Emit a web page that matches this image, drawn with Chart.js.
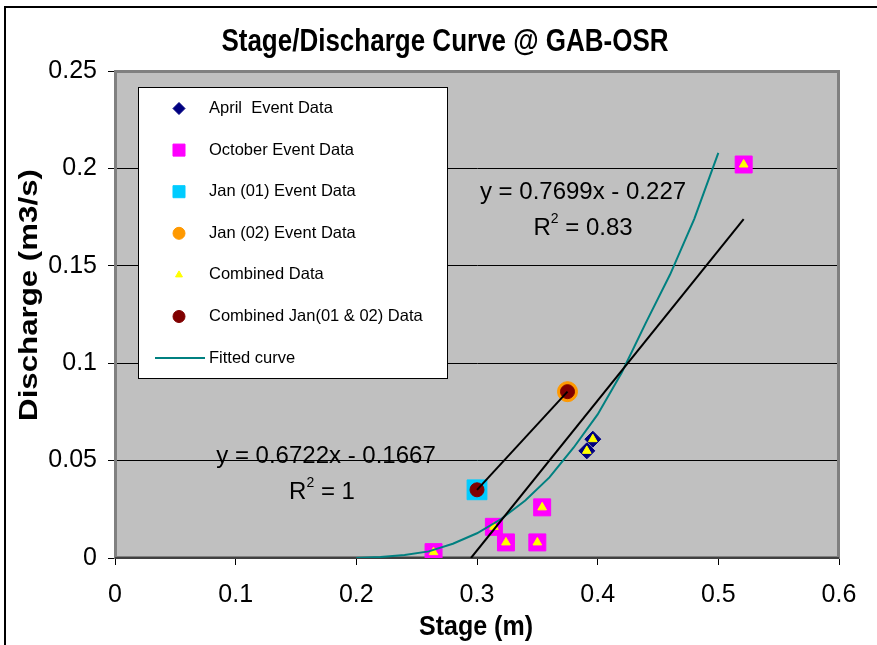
<!DOCTYPE html>
<html>
<head>
<meta charset="utf-8">
<script src="https://cdn.jsdelivr.net/npm/chart.js@4/dist/chart.umd.min.js"></script>
<style>
  body { margin: 0; background: #fff; }
  canvas { display: block; }
</style>
</head>
<body>
<canvas id="curveChart" width="877" height="645"></canvas>
<script>
// Datos (Stage en m, Discharge en m3/s)
const aprilStage = [0.391, 0.396];
const aprilQ = [0.055, 0.061];
const octStage = [0.264, 0.314, 0.324, 0.350, 0.354, 0.521];
const octQ = [0.003, 0.016, 0.008, 0.008, 0.026, 0.202];
const jan01Stage = [0.300];
const jan01Q = [0.035];
const jan02Stage = [0.375];
const jan02Q = [0.0854];
const fitStage = [0.20, 0.22, 0.24, 0.26, 0.28, 0.30, 0.32, 0.34, 0.36, 0.38, 0.40, 0.42, 0.44, 0.46, 0.48, 0.50];
const fitQ = [0, 0.0005, 0.0015, 0.0034, 0.0073, 0.0127, 0.020, 0.0295, 0.0414, 0.0566, 0.0737, 0.0952, 0.1208, 0.1455, 0.174, 0.208];
// líneas de tendencia (extremos)
const trendJanStage = [0.300, 0.375];
const trendJanQ = [0.035, 0.0854];
const trendAllStage = [0.295, 0.521];
const trendAllQ = [0, 0.174];

const xTicks = [0, 0.1, 0.2, 0.3, 0.4, 0.5, 0.6];
const yTicks = [0, 0.05, 0.1, 0.15, 0.2, 0.25];

const titulo = 'Stage/Discharge Curve @ GAB-OSR';
const tituloX = 'Stage (m)';
const tituloY = 'Discharge (m3/s)';
const eqAll = ['y = 0.7699x - 0.227', '0.83'];
const eqJan = ['y = 0.6722x - 0.1667', '1'];

const FONT = '"Liberation Sans", Arial, sans-serif';

const pts = (xs, ys) => xs.map((x, i) => ({ x: x, y: ys[i] }));

const combinedStage = [...aprilStage, ...octStage];
const combinedQ = [...aprilQ, ...octQ];

const datasets = [
  { label: 'April  Event Data', data: pts(aprilStage, aprilQ), pointStyle: 'rectRot', pointRadius: 8,
    backgroundColor: '#000080', borderColor: '#000080', borderWidth: 1, order: 7, legend: true, legendRadius: 6 },
  { label: 'October Event Data', data: pts(octStage, octQ), pointStyle: 'rect', pointRadius: 12,
    backgroundColor: '#FF00FF', borderColor: '#FF00FF', borderWidth: 1, order: 6, legend: true, legendRadius: 8.5 },
  { label: 'Jan (01) Event Data', data: pts(jan01Stage, jan01Q), pointStyle: 'rect', pointRadius: 14,
    backgroundColor: '#00CCFF', borderColor: '#00CCFF', borderWidth: 1, order: 5, legend: true, legendRadius: 8.5 },
  { label: 'Jan (02) Event Data', data: pts(jan02Stage, jan02Q), pointStyle: 'circle', pointRadius: 10,
    backgroundColor: '#FF9900', borderColor: '#FF9900', borderWidth: 1, order: 4, legend: true, legendRadius: 6 },
  { label: 'Combined Data', data: pts(combinedStage, combinedQ), pointStyle: 'triangle', pointRadius: 5,
    backgroundColor: '#FFFF00', borderColor: '#FFFF00', borderWidth: 1, order: 3, legend: true, legendRadius: 4 },
  { label: 'Combined Jan(01 & 02) Data', data: pts([...jan01Stage, ...jan02Stage], [...jan01Q, ...jan02Q]),
    pointStyle: 'circle', pointRadius: 7, backgroundColor: '#800000', borderColor: '#800000', borderWidth: 1,
    order: 2, legend: true, legendRadius: 6 },
  { label: 'Fitted curve', data: pts(fitStage, fitQ), showLine: true, pointRadius: 0,
    borderColor: '#008080', borderWidth: 2, order: 1, legend: true, legendLine: true },
  { label: 'trend jan', data: pts(trendJanStage, trendJanQ), showLine: true, pointRadius: 0,
    borderColor: '#000000', borderWidth: 2, order: 0 },
  { label: 'trend all', data: pts(trendAllStage, trendAllQ), showLine: true, pointRadius: 0,
    borderColor: '#000000', borderWidth: 2, order: 0 }
];

// texto con superíndice "R2 = valor", centrado
function drawR2(ctx, cx, cy, valor, size) {
  const big = size + 'px ' + FONT;
  const small = Math.round(size * 0.6) + 'px ' + FONT;
  ctx.font = big;
  const wR = ctx.measureText('R').width;
  const wRest = ctx.measureText(' = ' + valor).width;
  ctx.font = small;
  const w2 = ctx.measureText('2').width;
  let x = cx - (wR + w2 + wRest) / 2;
  ctx.textAlign = 'left';
  ctx.textBaseline = 'middle';
  ctx.font = big;
  ctx.fillText('R', x, cy);
  x += wR;
  ctx.font = small;
  ctx.fillText('2', x, cy - size * 0.35);
  x += w2;
  ctx.font = big;
  ctx.fillText(' = ' + valor, x, cy);
}

// texto estirado (el original está algo alargado en vertical)
function stretchedText(ctx, txt, x, y, sx, sy, rot) {
  ctx.save();
  ctx.translate(x, y);
  if (rot) ctx.rotate(rot);
  ctx.scale(sx, sy);
  ctx.fillText(txt, 0, 0);
  ctx.restore();
}

const marco = {
  id: 'marco',
  beforeDraw(chart) {
    const { ctx, chartArea: a } = chart;
    ctx.save();
    ctx.fillStyle = '#fff';
    ctx.fillRect(0, 0, chart.width, chart.height);
    // borde exterior
    ctx.strokeStyle = '#000';
    ctx.lineWidth = 2;
    ctx.beginPath();
    ctx.moveTo(5, chart.height);
    ctx.lineTo(5, 7);
    ctx.lineTo(chart.width, 7);
    ctx.stroke();
    // fondo gris del área
    ctx.fillStyle = '#C0C0C0';
    ctx.fillRect(a.left, a.top, a.right - a.left, a.bottom - a.top);
    ctx.restore();
  },
  beforeDatasetsDraw(chart) {
    const { ctx, chartArea: a } = chart;
    ctx.save();
    ctx.strokeStyle = '#808080';
    ctx.lineWidth = 3;
    ctx.strokeRect(a.left + 0.5, a.top + 0.5, a.right - a.left - 1, a.bottom - a.top - 1);
    ctx.strokeStyle = '#404040';
    ctx.lineWidth = 2;
    ctx.beginPath();
    ctx.moveTo(a.left, a.bottom);
    ctx.lineTo(a.right, a.bottom);
    ctx.stroke();
    ctx.restore();
  },
  afterDraw(chart) {
    const { ctx } = chart;
    ctx.save();
    ctx.fillStyle = '#000';
    // títulos
    ctx.textAlign = 'center';
    ctx.textBaseline = 'middle';
    ctx.font = 'bold 26px ' + FONT;
    stretchedText(ctx, titulo, 445, 42, 1, 1.2);
    ctx.font = 'bold 25px ' + FONT;
    stretchedText(ctx, tituloX, 476, 627, 1, 1.1);
    stretchedText(ctx, tituloY, 30, 295, 1.25, 1, -Math.PI / 2);

    // ecuaciones
    ctx.font = '24px ' + FONT;
    ctx.textAlign = 'center';
    ctx.fillText(eqAll[0], 583, 192);
    drawR2(ctx, 583, 228, eqAll[1], 24);
    ctx.font = '24px ' + FONT;
    ctx.textAlign = 'center';
    ctx.fillText(eqJan[0], 326, 456);
    drawR2(ctx, 322, 492, eqJan[1], 24);

    // leyenda
    const lx = 138, ly = 87, lw = 309, lh = 291;
    ctx.fillStyle = '#fff';
    ctx.fillRect(lx, ly, lw, lh);
    ctx.strokeStyle = '#000';
    ctx.lineWidth = 1;
    ctx.strokeRect(lx + 0.5, ly + 0.5, lw, lh);
    const items = chart.data.datasets.filter(d => d.legend);
    items.forEach((d, i) => {
      const y = 108.5 + i * 41.6;
      if (d.legendLine) {
        ctx.strokeStyle = d.borderColor;
        ctx.lineWidth = 2;
        ctx.beginPath();
        ctx.moveTo(155, y);
        ctx.lineTo(205, y);
        ctx.stroke();
      } else {
        ctx.fillStyle = d.backgroundColor;
        ctx.strokeStyle = d.borderColor;
        ctx.lineWidth = 1;
        Chart.helpers.drawPoint(ctx, { pointStyle: d.pointStyle, radius: d.legendRadius, rotation: 0, borderWidth: 1 }, 179, y);
      }
      ctx.fillStyle = '#000';
      ctx.font = '16.5px ' + FONT;
      ctx.textAlign = 'left';
      ctx.textBaseline = 'middle';
      ctx.fillText(d.label, 209, y);
    });
    ctx.restore();
  }
};

const fmt = v => String(+Number(v).toFixed(2));

new Chart(document.getElementById('curveChart'), {
  type: 'scatter',
  data: { datasets: datasets },
  options: {
    responsive: false,
    animation: false,
    layout: { padding: { top: 71, right: 38, bottom: 0, left: 0 } },
    plugins: { legend: { display: false }, tooltip: { enabled: false }, title: { display: false } },
    scales: {
      x: {
        type: 'linear', min: 0, max: 0.6,
        afterBuildTicks: s => { s.ticks = xTicks.map(v => ({ value: v })); },
        ticks: { callback: fmt, color: '#000', font: { family: FONT, size: 25 }, padding: 15, maxRotation: 0 },
        grid: { drawOnChartArea: false, color: '#000', tickLength: 7 },
        border: { color: '#404040', width: 2 },
        afterFit: s => { s.height = 87; }
      },
      y: {
        type: 'linear', min: 0, max: 0.25,
        afterBuildTicks: s => { s.ticks = yTicks.map(v => ({ value: v })); },
        ticks: { callback: fmt, color: '#000', font: { family: FONT, size: 25 }, padding: 11 },
        grid: { color: '#000', tickLength: 7, lineWidth: 1 },
        border: { color: '#808080', width: 2 },
        afterFit: s => { s.width = 115; }
      }
    }
  },
  plugins: [marco]
});
</script>
</body>
</html>
